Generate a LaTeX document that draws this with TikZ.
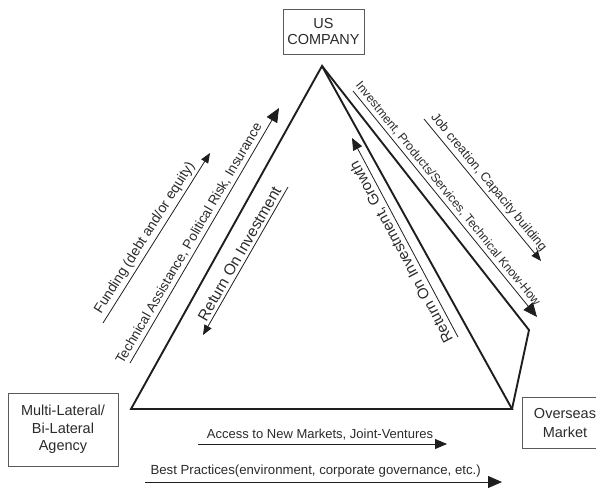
\documentclass[tikz,border=0pt]{standalone}
\usepackage{fontspec}
\setmainfont{Liberation Sans}
\usetikzlibrary{arrows.meta}
\definecolor{ink}{HTML}{1E1E1E}
\definecolor{txt}{HTML}{2A2A2A}
\definecolor{boxc}{HTML}{5A5A5A}
\begin{document}
\begin{tikzpicture}[x=1pt,y=-1pt,
  entity/.style={draw=boxc, line width=0.9pt, text=txt, align=center, inner sep=0pt},
  tri/.style={draw=ink, line width=1.9pt, line join=miter},
  flow/.style={draw=ink, line width=0.8pt},
  lbl/.style={text=txt, inner sep=3pt},
  tipS/.style={-{Triangle[length=10pt,width=8pt]}},
  tipM/.style={-{Triangle[length=12pt,width=10pt]}},
  tipL/.style={-{Triangle[length=14pt,width=12pt]}},
  tipSr/.style={{Triangle[length=10pt,width=8pt]}-},
]
\useasboundingbox (0,0) rectangle (596,491);

% entity boxes
\node[entity, minimum width=81pt, minimum height=45pt,
      font=\fontsize{14.5}{16}\selectfont] (us) at (323.5,31.5) {US\\COMPANY};
\node[entity, minimum width=110pt, minimum height=73pt,
      font=\fontsize{14.5}{17.5}\selectfont] (mla) at (63,429.5) {Multi-Lateral/\\Bi-Lateral\\Agency};
\node[entity, minimum width=86pt, minimum height=51pt,
      font=\fontsize{14.5}{19}\selectfont] (om) at (565,422.5) {Overseas\\Market};

% triangle
\coordinate (A) at (322,66);
\coordinate (L) at (131,409);
\coordinate (R) at (512,409);
\coordinate (K) at (529,330);
\draw[tri] (A) -- (L) -- (R) -- cycle;
\draw[tri] (A) -- (K) -- (R);

% left side flows
\coordinate (f1) at (103,323); \coordinate (f2) at (210,153);
\draw[flow, tipS] (f1) -- (f2)
  node[lbl, pos=0.47, above, sloped, font=\fontsize{14}{16}\selectfont] {Funding (debt and/or equity)};

\coordinate (t1) at (130,363); \coordinate (t2) at (279,108);
\draw[flow, tipL] (t1) -- (t2)
  node[lbl, pos=0.45, above, sloped, font=\fontsize{13.5}{16}\selectfont] {Technical Assistance, Political Risk, Insurance};

\coordinate (r1) at (203,335); \coordinate (r2) at (288,187);
\draw[flow, tipSr] (r1) -- (r2)
  node[lbl, pos=0.52, above, sloped, font=\fontsize{15.5}{17}\selectfont] {Return On Investment};

% right side flows
\coordinate (g1) at (458,337); \coordinate (g2) at (352,138);
\draw[flow, tipM] (g1) -- (g2)
  node[lbl, pos=0.45, above, sloped, allow upside down, font=\fontsize{15}{17}\selectfont] {Return On Investment, Growth};

\coordinate (i1) at (353,91); \coordinate (i2) at (537,317);
\draw[flow, tipL] (i1) -- (i2)
  node[lbl, pos=0.48, above, sloped, font=\fontsize{12.2}{14}\selectfont] {Investment, Products/Services, Technical Know-How};

\coordinate (j1) at (424,119); \coordinate (j2) at (541,261);
\draw[flow, tipS] (j1) -- (j2)
  node[lbl, pos=0.49, above, sloped, font=\fontsize{12.8}{14}\selectfont] {Job creation, Capacity building};

% bottom flows
\coordinate (a1) at (198,444); \coordinate (a2) at (447,444);
\draw[flow, tipM] (a1) -- (a2)
  node[lbl, pos=0.49, above, inner sep=3.5pt, font=\fontsize{13}{15}\selectfont] {Access to New Markets, Joint-Ventures};

\coordinate (b1) at (145,482); \coordinate (b2) at (502,482);
\draw[flow, tipL] (b1) -- (b2)
  node[lbl, pos=0.478, above, inner sep=4pt, font=\fontsize{13.2}{15}\selectfont] {Best Practices(environment, corporate governance, etc.)};
\end{tikzpicture}
\end{document}
